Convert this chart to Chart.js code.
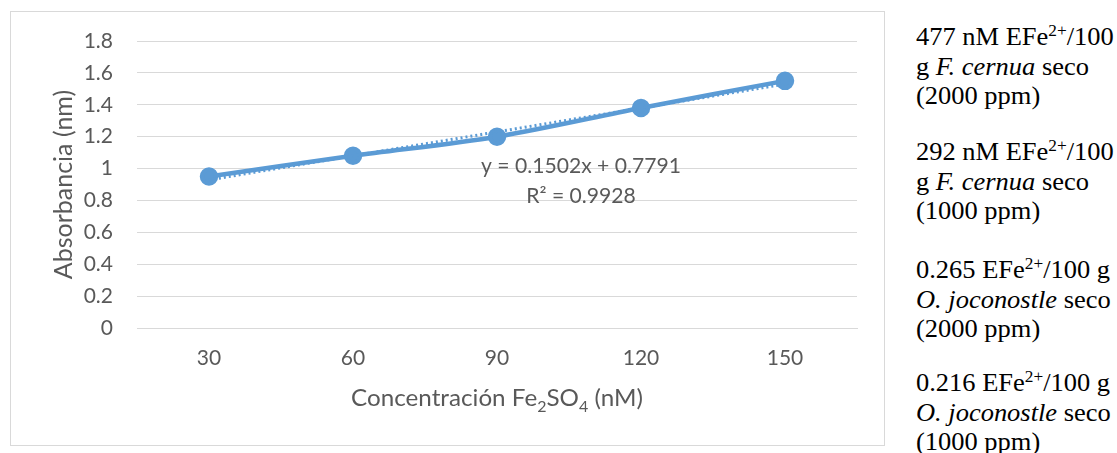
<!DOCTYPE html>
<html>
<head>
<meta charset="utf-8">
<script src="https://cdn.jsdelivr.net/npm/chart.js@4"></script>
<style>
    body { margin: 0; width: 1117px; height: 453px; background: #fff; overflow: hidden; position: relative; }
    #frame { position: absolute; left: 10px; top: 11px; width: 875px; height: 435px; border: 1px solid #d9d9d9; box-sizing: border-box; }
    #chartBox { position: absolute; left: 0; top: 0; width: 890px; height: 453px; }
    .nota { position: absolute; left: 916px; width: 200px; font-family: "Liberation Serif", "Times New Roman", serif; font-size: 24.5px; line-height: 29.5px; color: #000; white-space: nowrap; transform: scaleX(1.08); transform-origin: left top; }
    .nota sup { font-size: 16px; vertical-align: 9px; line-height: 0; }
</style>
</head>
<body>
<div id="frame"></div>
<div id="chartBox"><canvas id="absChart" width="890" height="453"></canvas></div>

<div class="nota" style="top: 22px;">477 nM EFe<sup>2+</sup>/100<br>g <i>F. cernua</i> seco<br>(2000 ppm)</div>
<div class="nota" style="top: 137px;">292 nM EFe<sup>2+</sup>/100<br>g <i>F. cernua</i> seco<br>(1000 ppm)</div>
<div class="nota" style="top: 255px;">0.265 EFe<sup>2+</sup>/100 g<br><i>O. joconostle</i> seco<br>(2000 ppm)</div>
<div class="nota" style="top: 368px;">0.216 EFe<sup>2+</sup>/100 g<br><i>O. joconostle</i> seco<br>(1000 ppm)</div>

<script>
// Datos
const categories = ["30", "60", "90", "120", "150"];
const absorbance = [0.95, 1.08, 1.20, 1.38, 1.55];
const trendValues = [0.929, 1.080, 1.230, 1.380, 1.530];
const yTicks = [0, 0.2, 0.4, 0.6, 0.8, 1, 1.2, 1.4, 1.6, 1.8];
const equationText = "y = 0.1502x + 0.7791";
const r2Text = "R² = 0.9928";

const FONT = "Lato, sans-serif";
const TEXT_COLOR = "#595959";
const BLUE = "#5B9BD5";
const STRETCH = 1.03; // el texto horizontal del original está algo ensanchado

function stretchedText(ctx, text, x, y) {
    ctx.save();
    ctx.translate(x, y);
    ctx.scale(STRETCH, 1);
    ctx.fillText(text, 0, 0);
    ctx.restore();
}

// Títulos y ecuación dibujados a mano (subíndices)
const labelsPlugin = {
    id: "labelsPlugin",
    afterDraw(chart) {
        const ctx = chart.ctx;
        const area = chart.chartArea;
        ctx.save();
        ctx.fillStyle = TEXT_COLOR;

        // Título eje Y
        ctx.font = "25px " + FONT;
        ctx.textAlign = "center";
        ctx.textBaseline = "middle";
        ctx.save();
        ctx.translate(64, (area.top + area.bottom) / 2);
        ctx.rotate(-Math.PI / 2);
        ctx.fillText("Absorbancia (nm)", 0, 0);
        ctx.restore();

        // Título eje X con subíndices
        const parts = [
            { t: "Concentración Fe", sub: false },
            { t: "2", sub: true },
            { t: "SO", sub: false },
            { t: "4", sub: true },
            { t: " (nM)", sub: false }
        ];
        const big = "23.5px " + FONT;
        const small = "15.5px " + FONT;
        let total = 0;
        parts.forEach(p => {
            ctx.font = p.sub ? small : big;
            p.w = ctx.measureText(p.t).width * STRETCH;
            total += p.w;
        });
        let x = (area.left + area.right) / 2 - total / 2;
        const baseY = 406;
        ctx.textAlign = "left";
        ctx.textBaseline = "alphabetic";
        parts.forEach(p => {
            ctx.font = p.sub ? small : big;
            stretchedText(ctx, p.t, x, p.sub ? baseY + 6 : baseY);
            x += p.w;
        });

        // Ecuación de la línea de tendencia
        ctx.font = "20.5px " + FONT;
        ctx.textAlign = "center";
        ctx.textBaseline = "middle";
        stretchedText(ctx, equationText, 581, 166);
        stretchedText(ctx, r2Text, 581, 196);
        ctx.restore();
    }
};

const ctxAbs = document.getElementById("absChart").getContext("2d");
new Chart(ctxAbs, {
    type: "line",
    data: {
        labels: categories,
        datasets: [
            {
                label: "Tendencia",
                data: trendValues,
                borderColor: BLUE,
                borderWidth: 3,
                borderDash: [2, 3],
                pointRadius: 0,
                fill: false,
                order: 0
            },
            {
                label: "Absorbancia",
                data: absorbance,
                borderColor: BLUE,
                backgroundColor: BLUE,
                borderWidth: 4.5,
                pointRadius: 7,
                pointBackgroundColor: BLUE,
                pointBorderColor: BLUE,
                tension: 0.3,
                fill: false,
                order: 1
            }
        ]
    },
    options: {
        responsive: false,
        animation: false,
        layout: { padding: { left: 0, top: 41, right: 33, bottom: 0 } },
        plugins: {
            legend: { display: false },
            tooltip: { enabled: false }
        },
        scales: {
            x: {
                offset: true,
                grid: { display: false, drawTicks: false },
                border: { display: true, color: "#d9d9d9", width: 1 },
                ticks: { color: TEXT_COLOR, font: { family: FONT, size: 21 }, padding: 18 },
                afterFit(scale) { scale.height = 125; }
            },
            y: {
                min: 0,
                max: 1.8,
                afterBuildTicks(scale) { scale.ticks = yTicks.map(v => ({ value: v })); },
                grid: { color: "#d9d9d9", lineWidth: 1, drawTicks: false },
                border: { display: false },
                ticks: {
                    color: TEXT_COLOR,
                    font: { family: FONT, size: 21 },
                    padding: 24,
                    callback: v => String(Number(v.toFixed(1)))
                },
                afterFit(scale) { scale.width = 137; }
            }
        }
    },
    plugins: [labelsPlugin]
});
</script>
</body>
</html>
